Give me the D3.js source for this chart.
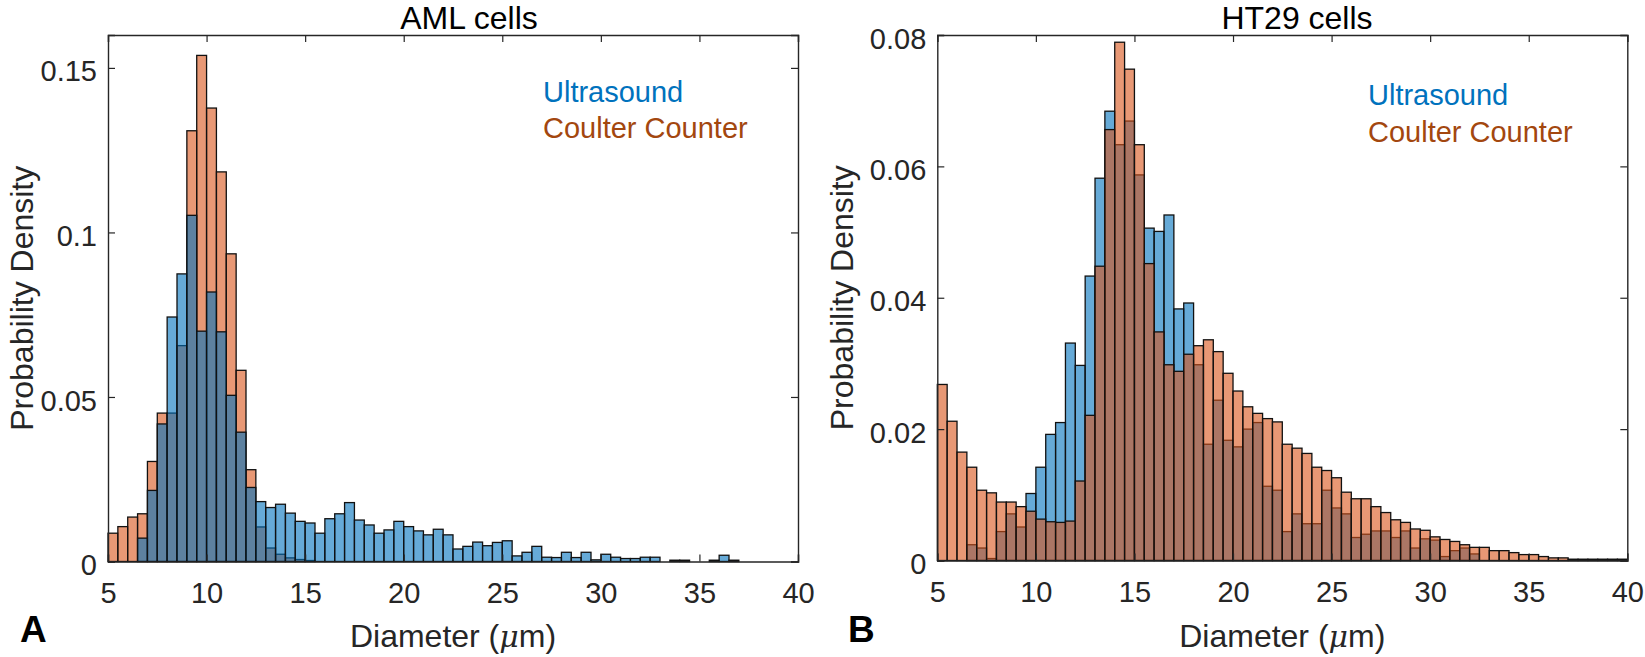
<!DOCTYPE html>
<html>
<head>
<meta charset="utf-8">
<script src="https://cdn.jsdelivr.net/npm/d3@7"></script>
<style>
  html, body { margin: 0; padding: 0; background: #ffffff; }
  svg { display: block; font-family: "Liberation Sans", Arial, Helvetica, sans-serif; }
</style>
</head>
<body>
<svg id="chart" width="1645" height="657"></svg>
<script>
// ---------------- data ----------------
const binStart = 5;
const binWidth = 0.5;
const xTicks = [5, 10, 15, 20, 25, 30, 35, 40];
const amlYTicks = [0, 0.05, 0.1, 0.15];
const ht29YTicks = [0, 0.02, 0.04, 0.06, 0.08];
const seriesNames = ["Ultrasound", "Coulter Counter"];
const panelTitles = ["AML cells", "HT29 cells"];
const panelLetters = ["A", "B"];

// AML cells, probability density per 0.5 µm bin (5 → 40 µm)
const amlUltrasound = [
  0, 0, 0, 0.0071, 0.0216, 0.0418, 0.0743, 0.0874, 0.1052, 0.0700,
  0.0819, 0.0698, 0.0505, 0.0393, 0.0225, 0.0182, 0.0164, 0.0174, 0.0147, 0.0122,
  0.0117, 0.0086, 0.0130, 0.0145, 0.0179, 0.0126, 0.0111, 0.0086, 0.0096, 0.0122,
  0.0106, 0.0093, 0.0081, 0.0098, 0.0081, 0.0038, 0.0046, 0.0059, 0.0048, 0.0058,
  0.0063, 0.0017, 0.0028, 0.0046, 0.0013, 0.0012, 0.0028, 0.0012, 0.0028, 0.0005,
  0.0022, 0.0013, 0.0009, 0.0009, 0.0013, 0.0013, 0, 0.0004, 0.0004, 0,
  0, 0.0004, 0.0019, 0.0004, 0, 0, 0, 0, 0, 0
];
const amlCoulter = [
  0.0086, 0.0106, 0.0135, 0.0145, 0.0304, 0.0451, 0.0451, 0.0656, 0.1309, 0.1538,
  0.1378, 0.1184, 0.0935, 0.0581, 0.0279, 0.0105, 0.0041, 0.0022, 0.0011, 0.0006,
  0.0003, 0, 0, 0, 0, 0, 0, 0, 0, 0,
  0, 0, 0, 0, 0, 0, 0, 0, 0, 0,
  0, 0, 0, 0, 0, 0, 0, 0, 0, 0,
  0, 0, 0, 0, 0, 0, 0, 0, 0, 0,
  0, 0, 0, 0, 0, 0, 0, 0, 0, 0
];

// HT29 cells
const ht29Ultrasound = [
  0, 0, 0, 0.0024, 0.0019, 0.0003, 0.0044, 0.0071, 0.0051, 0.0102,
  0.0142, 0.0192, 0.0210, 0.0331, 0.0297, 0.0433, 0.0582, 0.0684, 0.0633, 0.0669,
  0.0587, 0.0506, 0.0501, 0.0526, 0.0383, 0.0392, 0.0298, 0.0177, 0.0244, 0.0183,
  0.0173, 0.0200, 0.0210, 0.0113, 0.0107, 0.0044, 0.0071, 0.0056, 0.0056, 0.0107,
  0.0080, 0.0071, 0.0035, 0.0040, 0.0045, 0.0045, 0.0035, 0.0045, 0.0019, 0.0033,
  0.0031, 0.0006, 0.0015, 0.0019, 0.0010, 0, 0, 0, 0, 0,
  0, 0, 0, 0, 0, 0, 0, 0, 0, 0
];
const ht29Coulter = [
  0.0268, 0.0212, 0.0165, 0.0142, 0.0107, 0.0103, 0.0089, 0.0089, 0.0082, 0.0075,
  0.0063, 0.0059, 0.0058, 0.0060, 0.0121, 0.0221, 0.0448, 0.0656, 0.0789, 0.0748,
  0.0633, 0.0452, 0.0348, 0.0298, 0.0288, 0.0314, 0.0327, 0.0336, 0.0318, 0.0285,
  0.0258, 0.0234, 0.0224, 0.0216, 0.0211, 0.0177, 0.0171, 0.0163, 0.0142, 0.0137,
  0.0126, 0.0104, 0.0094, 0.0094, 0.0082, 0.0073, 0.0062, 0.0058, 0.0048, 0.0046,
  0.0036, 0.0032, 0.0029, 0.0024, 0.0020, 0.0020, 0.0015, 0.0015, 0.0012, 0.0009,
  0.0009, 0.0006, 0.0004, 0.0004, 0.0002, 0.0002, 0.0002, 0.0002, 0.0002, 0.0002
];

// ---------------- style ----------------
const blue = "#0072BD";
const orange = "#D95319";
const legendBlue = "#0072BD";
const legendBrown = "#A3470F";
const axisColor = "#262626";

const svg = d3.select("#chart");

const panels = [
  {
    left: 108, right: 798, top: 35, bottom: 561.5,
    yMax: 0.16, yTicks: amlYTicks,
    series: [ {values: amlCoulter, color: orange}, {values: amlUltrasound, color: blue} ], // blue on top
    title: panelTitles[0], titleX: 469, letter: panelLetters[0], letterX: 20,
    ylabelX: 33, legendX: 543, legendY: [101.5, 137.5]
  },
  {
    left: 937.3, right: 1627.3, top: 35, bottom: 560.5,
    yMax: 0.08, yTicks: ht29YTicks,
    series: [ {values: ht29Ultrasound, color: blue}, {values: ht29Coulter, color: orange} ], // orange on top
    title: panelTitles[1], titleX: 1297, letter: panelLetters[1], letterX: 848,
    ylabelX: 853, legendX: 1368, legendY: [105, 141.5]
  }
];

const fmt = d => (d === 0 ? "0" : String(d));

panels.forEach(p => {
  const x = d3.scaleLinear().domain([binStart, 40]).range([p.left, p.right]);
  const y = d3.scaleLinear().domain([0, p.yMax]).range([p.bottom, p.top]);
  const g = svg.append("g");

  // bars
  p.series.forEach(s => {
    const bins = s.values.map((v, i) => ({x0: binStart + i * binWidth, x1: binStart + (i + 1) * binWidth, v}))
      .filter(b => b.v > 0);
    g.append("g").selectAll("rect").data(bins).join("rect")
      .attr("x", b => x(b.x0))
      .attr("width", b => x(b.x1) - x(b.x0))
      .attr("y", b => y(b.v))
      .attr("height", b => y(0) - y(b.v))
      .attr("fill", s.color)
      .attr("fill-opacity", 0.6)
      .attr("stroke", "#111")
      .attr("stroke-width", 1.3);
  });

  // axes box
  const tickLen = 7;
  const axB = d3.axisBottom(x).tickValues(xTicks).tickSize(-tickLen).tickFormat(d3.format("d")).tickPadding(14);
  const axT = d3.axisTop(x).tickValues(xTicks).tickSize(-tickLen).tickFormat("");
  const axL = d3.axisLeft(y).tickValues(p.yTicks).tickSize(-tickLen).tickFormat(fmt).tickPadding(11);
  const axR = d3.axisRight(y).tickValues(p.yTicks).tickSize(-tickLen).tickFormat("");

  const styleAxis = sel => {
    sel.select(".domain").attr("stroke", axisColor).attr("stroke-width", 1.4);
    sel.selectAll(".tick line").attr("stroke", axisColor).attr("stroke-width", 1.2);
    sel.selectAll(".tick text").attr("fill", axisColor).style("font-size", "29px")
      .style("font-family", "'Liberation Sans', Arial, sans-serif");
  };

  const gb = g.append("g").attr("transform", `translate(0,${p.bottom})`).call(axB).call(styleAxis);
  gb.selectAll(".tick text").attr("dy", "0.71em").attr("y", 21);
  g.append("g").attr("transform", `translate(0,${p.top})`).call(axT).call(styleAxis);
  const gl = g.append("g").attr("transform", `translate(${p.left},0)`).call(axL).call(styleAxis);
  gl.selectAll(".tick text").attr("dy", "0.45em");
  g.append("g").attr("transform", `translate(${p.right},0)`).call(axR).call(styleAxis);

  // title
  svg.append("text").attr("x", p.titleX).attr("y", 29).attr("text-anchor", "middle")
    .style("font-size", "32px").attr("fill", "#000").text(p.title);

  // x label
  const xl = svg.append("text").attr("x", (p.left + p.right) / 2).attr("y", 647)
    .attr("text-anchor", "middle").style("font-size", "32px").attr("fill", axisColor);
  xl.append("tspan").text("Diameter (");
  xl.append("tspan").style("font-style", "italic").style("font-family", "'DejaVu Serif', 'Liberation Serif', serif").style("font-size", "30px").text("\u03BC");
  xl.append("tspan").text("m)");

  // y label
  svg.append("text")
    .attr("transform", `translate(${p.ylabelX},${(p.top + p.bottom) / 2}) rotate(-90)`)
    .attr("text-anchor", "middle").style("font-size", "32px").attr("fill", axisColor)
    .text("Probability Density");

  // legend text
  svg.append("text").attr("x", p.legendX).attr("y", p.legendY[0])
    .style("font-size", "29px").attr("fill", legendBlue).text(seriesNames[0]);
  svg.append("text").attr("x", p.legendX).attr("y", p.legendY[1])
    .style("font-size", "29px").attr("fill", legendBrown).text(seriesNames[1]);

  // panel letter
  svg.append("text").attr("x", p.letterX).attr("y", 642)
    .style("font-size", "37px").style("font-weight", "bold").attr("fill", "#000").text(p.letter);
});
</script>
</body>
</html>
